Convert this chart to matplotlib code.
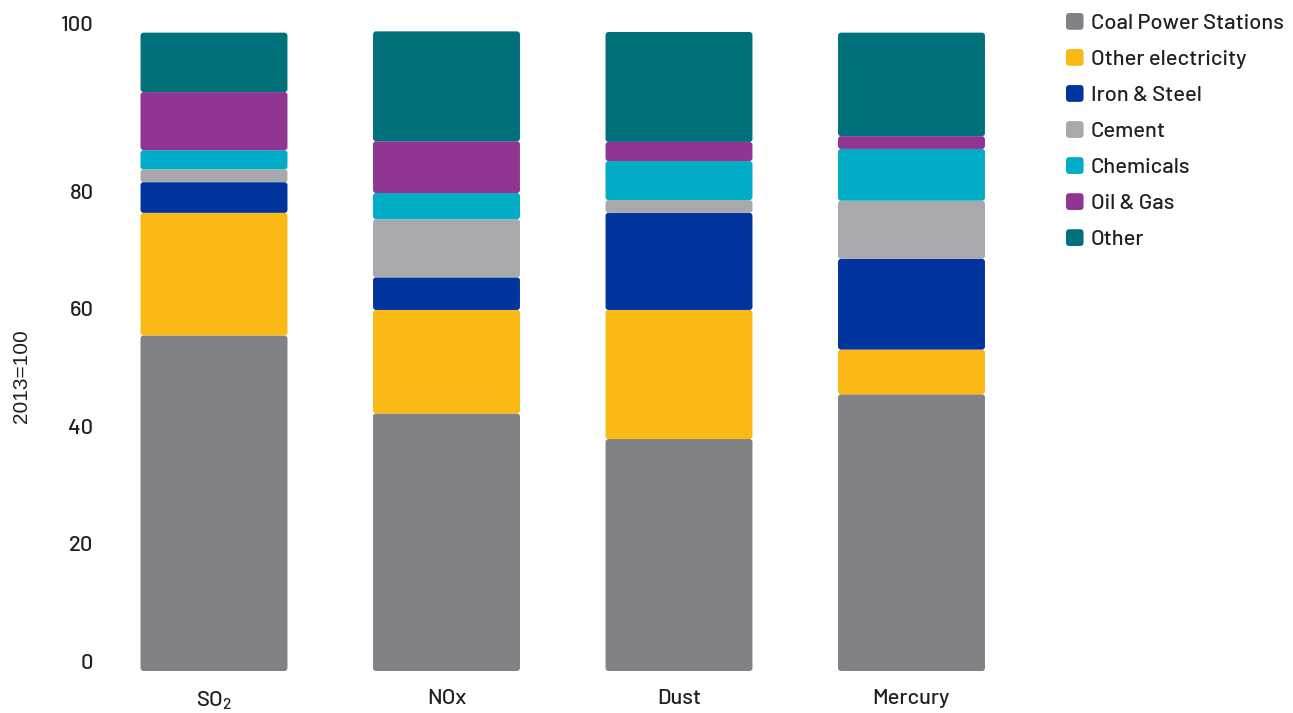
import matplotlib
matplotlib.use("Agg")
import matplotlib.pyplot as plt
from matplotlib.patches import FancyBboxPatch, Patch
from matplotlib.legend_handler import HandlerPatch
import numpy as np

plt.rcParams['font.family'] = ['Barlow', 'DejaVu Sans']
plt.rcParams['font.weight'] = 'medium'
plt.rcParams['mathtext.fontset'] = 'custom'
plt.rcParams['mathtext.rm'] = 'Barlow:medium'

# ---- data ----
categories = [r'SO$_\mathregular{2}$', 'NOx', 'Dust', 'Mercury']
series_names = ['Coal Power Stations', 'Other electricity', 'Iron & Steel', 'Cement',
                'Chemicals', 'Oil & Gas', 'Other']
coal_power = [52.5, 40.3, 36.3, 43.3]
other_electricity = [19.2, 16.2, 20.2, 7.0]
iron_steel = [4.8, 5.1, 15.2, 14.2]
cement = [2.0, 9.1, 2.0, 9.1]
chemicals = [3.0, 4.1, 6.1, 8.1]
oil_gas = [9.1, 8.1, 3.0, 2.0]
other = [9.3, 17.2, 17.2, 16.2]
ytick_values = [1.5, 19.9, 38.3, 56.7, 75.0, 101.4]
ytick_labels = ['0', '20', '40', '60', '80', '100']
ylabel = '2013=100'

colors = ['#818286', '#FBB915', '#0035A0', '#A8A9AD', '#00ACC6', '#913592', '#00707B']
series = [coal_power, other_electricity, iron_steel, cement, chemicals, oil_gas, other]

W, H = 1293, 713
fig = plt.figure(figsize=(W / 100, H / 100), dpi=100)
ax_left, ax_right = 97.75, 1027.75
ax_bottom, ax_top = 671.0, 6.44
ax = fig.add_axes([ax_left / W, (H - ax_bottom) / H, (ax_right - ax_left) / W, (ax_bottom - ax_top) / H])

x = np.arange(len(categories))
bar_w = 0.632
ax.set_xlim(-0.5, 3.5)
ax.set_ylim(0, 104)

# pixel scales for rounded corners
px_per_x = (ax_right - ax_left) / 4.0
px_per_y = (ax_bottom - ax_top) / 104.0
r_px = 3.0

bottom = np.zeros(len(categories))
handles = []
for vals, name, col in zip(series, series_names, colors):
    bars = ax.bar(x, vals, bar_w, bottom=bottom, color=col, linewidth=0)
    for b in bars:
        b.set_visible(False)
        fb = FancyBboxPatch((b.get_x(), b.get_y()), b.get_width(), b.get_height(),
                            boxstyle=f"round,pad=0,rounding_size={r_px / px_per_x}",
                            mutation_aspect=px_per_x / px_per_y,
                            facecolor=col, edgecolor='none', linewidth=0)
        ax.add_patch(fb)
    bottom += np.array(vals)
    handles.append(Patch(facecolor=col, label=name))

ax.set_xticks(x, categories)
ax.set_yticks(ytick_values, ytick_labels)
ax.tick_params(axis='both', length=0, labelsize=15.8, colors='#231f20')
ax.tick_params(axis='y', pad=3)
ax.tick_params(axis='x', pad=13)
for s in ax.spines.values():
    s.set_visible(False)

fig.text(22 / W, (H - 376) / H, ylabel, rotation=90, ha='center', va='center',
         fontsize=15, family=['Liberation Sans', 'DejaVu Sans'], fontweight='normal', color='#231f20')


class RoundSquare(HandlerPatch):
    def create_artists(self, legend, orig_handle, xdescent, ydescent, width, height, fontsize, trans):
        p = FancyBboxPatch((-xdescent, -ydescent), width, height,
                           boxstyle="round,pad=0,rounding_size=2.5",
                           facecolor=orig_handle.get_facecolor(), edgecolor='none', transform=trans)
        return [p]


leg = fig.legend(handles=handles, loc='upper left', bbox_to_anchor=(1066 / W, (H - 13) / H),
                 frameon=False, fontsize=15.8, handlelength=0.8, handleheight=0.8,
                 handletextpad=0.32, labelspacing=0.73, borderpad=0, borderaxespad=0,
                 handler_map={Patch: RoundSquare()})
for t in leg.get_texts():
    t.set_color('#231f20')

fig.savefig('out.png', dpi=100)
